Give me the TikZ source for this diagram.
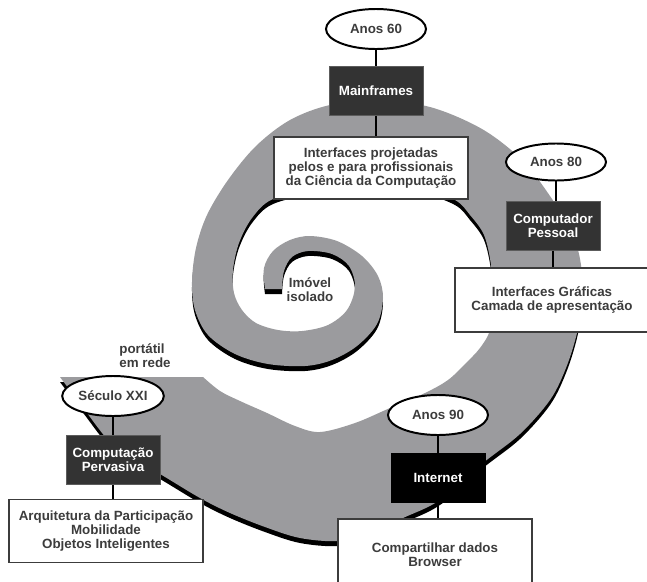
\documentclass[tikz,border=0pt]{standalone}
\usepackage{fontspec}
\setmainfont{Liberation Sans}
\usepackage{tikz}
\usetikzlibrary{positioning, shapes.geometric}
\definecolor{bandgray}{RGB}{155, 155, 158}
\definecolor{boxdark}{RGB}{51, 51, 51}
\definecolor{inkgray}{RGB}{60, 60, 60}

% spiral band: outer edge out, cut, inner edge back in
\newcommand{\spiralband}{%
  plot[smooth, tension=0.55] coordinates {
    (265,289) (264,268) (273,251) (290,240) (310,236) (337,241) (362,256)
    (378,276) (383,298) (377,324) (357,346) (332,360) (305,366) (268,364)
    (235,354) (208,335) (195,310) (192,282) (196,248) (207,215) (228,180)
    (256,146) (290,120) (330,105) (377,101) (430,107) (482,129) (522,160)
    (550,196) (572,232) (581,265) (582,300) (577,333) (566,368) (550,400)
    (520,434) (483,463) (440,500) (403,518) (370,533) (338,541) (300,538)
    (265,527) (230,513) (200,498) (160,474) (128,456) (108,440) (84,409)
    (60,377)}
  -- plot[smooth, tension=0.55] coordinates {
    (203,377) (220,391) (240,401) (267,413) (295,426) (320,432) (355,423)
    (390,408) (425,393) (448,380) (465,364) (480,348) (490,330) (493,300)
    (491,265) (484,235) (470,215) (455,200) (420,188) (370,185) (320,188)
    (273,199) (252,218) (239,243) (233,270) (234,293) (242,310) (256,323)
    (278,330) (302,331) (328,325) (347,310) (355,287) (349,266) (332,254)
    (308,251) (292,257) (284,271) (282,289)}
  -- cycle}

\begin{document}
\begin{tikzpicture}[
  x=0.025cm, y=-0.025cm,
  font=\fontsize{9.5}{10}\selectfont\bfseries,
  era/.style={ellipse, draw=black, line width=1.4pt, fill=white,
              minimum width=2.5cm, minimum height=1.0cm, inner sep=1pt,
              text=inkgray},
  techbox/.style={rectangle, fill=boxdark, draw=boxdark!80!white,
                  minimum width=2.35cm, minimum height=1.225cm,
                  text=white, align=center},
  descbox/.style={rectangle, draw=inkgray, line width=1pt, fill=white,
                  minimum width=4.85cm, align=center, text=inkgray},
  lbl/.style={text=inkgray, align=center},
  link/.style={line width=1pt, color=black}
]
  \useasboundingbox (0,0) rectangle (647,581);

  % spiral with its shadow
  \fill[black, shift={(0,5)}] \spiralband;
  \fill[bandgray] \spiralband;

  % Anos 60
  \node[era]                               (a60)   at (376,29)  {Anos 60};
  \node[techbox]                           (mainf) at (376,91)  {Mainframes};
  \node[descbox, minimum height=1.55cm]    (d60)   at (371,168)
       {Interfaces projetadas\\pelos e para profissionais\\da Ciência da Computação};

  % Anos 80
  \node[era, minimum height=0.925cm]       (a80)   at (556,162) {Anos 80};
  \node[techbox]                           (pc)    at (553,226) {Computador\\Pessoal};
  \node[descbox, minimum height=1.6cm]     (d80)   at (552,300)
       {Interfaces Gráficas\\Camada de apresentação};

  % Anos 90
  \node[era]                               (a90)   at (438,415) {Anos 90};
  \node[techbox, fill=black, draw=black]   (inet)  at (438,478) {Internet};
  \node[descbox, minimum height=1.8cm]     (d90)   at (435,555)
       {Compartilhar dados\\Browser};

  % Seculo XXI
  \node[era]                               (s21)   at (113,396) {Século XXI};
  \node[techbox]                           (perv)  at (113,460) {Computação\\Pervasiva};
  \node[descbox, minimum height=1.575cm]   (d21)   at (106,531)
       {Arquitetura da Participação\\Mobilidade\\Objetos Inteligentes};

  % free labels on the spiral
  \node[lbl]             (imovel)  at (310,290) {Imóvel\\isolado};
  \node[lbl, align=left] (portatil) at (145,356) {portátil\\em rede};

  % connectors
  \draw[link] (a60)  -- (mainf);
  \draw[link] (mainf) -- (mainf |- d60.north);
  \draw[link] (a80)  -- (a80 |- pc.north);
  \draw[link] (pc)   -- (pc |- d80.north);
  \draw[link] (a90)  -- (inet);
  \draw[link] (inet) -- (inet |- d90.north);
  \draw[link] (s21)  -- (perv);
  \draw[link] (perv) -- (perv |- d21.north);
\end{tikzpicture}
\end{document}
